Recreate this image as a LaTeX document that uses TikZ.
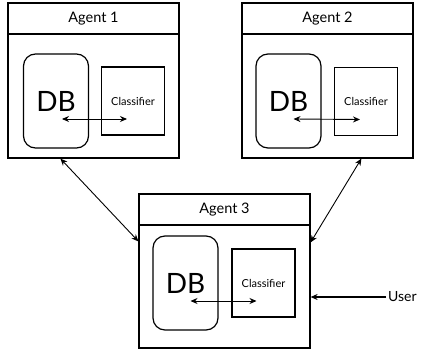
\documentclass[tikz,border=0pt]{standalone}
\usepackage{fontspec}
\setmainfont{Lato}
\usetikzlibrary{arrows.meta}

\tikzstyle{agent}=[rectangle,
    line width=1.2pt,
    draw=black,
    minimum width=171pt,
    inner sep=0pt]
\tikzstyle{title}=[agent,
    minimum height=31pt,
    font=\fontsize{14.5}{14.5}\selectfont]
\tikzstyle{db}=[rectangle,
    rounded corners=12pt,
    line width=1.2pt,
    draw=black,
    minimum width=65pt,
    minimum height=94pt,
    font=\fontsize{28}{28}\selectfont]
\tikzstyle{classifier}=[rectangle,
    line width=1.2pt,
    draw=black,
    minimum width=63pt,
    minimum height=68pt,
    font=\fontsize{11}{11}\selectfont]

\begin{document}
\begin{tikzpicture}[x=1pt,y=-1pt,>={Stealth[length=7pt,width=6pt]}]
            \useasboundingbox (0,0) rectangle (428,353);
            % agent 1
            \node (a1) [agent, minimum height=155pt] at (93.5,80.5) {};
            \node (t1) [title, anchor=north] at (a1.north) {Agent 1};
            \node (db1) [db] at (56,101) {DB};
            \node (c1) [classifier] at (133,101) {Classifier};
            % agent 2
            \node (a2) [agent, minimum height=155pt] at (327.5,80.5) {};
            \node (t2) [title, anchor=north] at (a2.north) {Agent 2};
            \node (db2) [db] at (288.5,101) {DB};
            \node (c2) [classifier] at (366,101.5) {Classifier};
            % agent 3
            \node (a3) [agent, minimum height=154pt] at (224.5,271) {};
            \node (t3) [title, anchor=north] at (a3.north) {Agent 3};
            \node (db3) [db] at (185.5,283) {DB};
            \node (c3) [classifier] at (263.5,283) {Classifier};
            \node (user) [anchor=west, inner sep=2pt, font=\fontsize{14}{14}\selectfont] at (386,297) {User};

            \draw [<->, line width=0.9pt] ([shift={(6pt,-18pt)}]db1.center) -- ([shift={(-6pt,-18pt)}]c1.center);
            \draw [<->, line width=0.9pt] ([shift={(5pt,-18pt)}]db2.center) -- ([shift={(-6pt,-18pt)}]c2.center);
            \draw [<->, line width=0.9pt] ([shift={(5pt,-18pt)}]db3.center) -- ([shift={(-7pt,-18pt)}]c3.center);
            \draw [<->, line width=0.9pt] ([xshift=53pt]a1.south west) -- ([yshift=-48pt]a3.north west);
            \draw [<->, line width=0.9pt] ([xshift=120pt]a2.south west) -- ([yshift=-49pt]a3.north east);
            \draw [->, line width=1.6pt] (user.west) -- (user.west -| a3.east);

        \end{tikzpicture}
\end{document}
